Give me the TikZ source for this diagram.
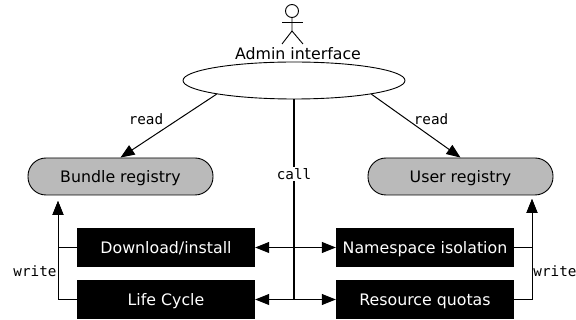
\documentclass[tikz,border=0pt]{standalone}
\usepackage{fontspec}
\setmainfont{DejaVu Sans}
\setmonofont{DejaVu Sans Mono}
\usetikzlibrary{arrows.meta,shapes.geometric,positioning}
\tikzstyle{my registry} = [draw, fill=black!27, rounded corners=18pt, minimum width=185pt, minimum height=37pt, inner sep=0pt, text height=11.5pt, text depth=0pt, line width=0.9pt, font=\fontsize{15.8}{18}\selectfont]
\tikzstyle{my module} = [fill=black, text=white, minimum width=178pt, minimum height=39pt, inner sep=0pt, text height=11.5pt, text depth=0pt, font=\fontsize{15.8}{18}\selectfont]
\tikzstyle{my label} = [inner sep=1pt, font=\ttfamily\fontsize{14.3}{16}\selectfont]
\tikzstyle{my arrow} = [line width=1pt, -{Triangle[length=14pt,width=11pt]}]

\begin{document}
\begin{tikzpicture}[x=1pt,y=-1pt]
  \useasboundingbox (0,0) rectangle (576,320);
  % Actor
  \coordinate (neck) at (292,18);
  \coordinate (hip) at (292,31);
  \draw[line width=0.9pt] (292,11) circle[radius=6.5pt];
  \draw[line width=0.9pt] (neck) -- (hip) -- (282,44);
  \draw[line width=0.9pt] (hip) -- (303,44);
  \draw[line width=0.9pt] (282,22) -- (303,22);
  \node[inner sep=0pt, font=\fontsize{15.8}{18}\selectfont] (title) at (298,53.5) {Admin interface};
  % Nodes
  \node[draw, ellipse, line width=0.9pt, minimum width=222pt, minimum height=37pt, inner sep=0pt] (admin) at (294,80.5) {};
  \node[my registry] (bundle) at (120.5,176.5) {Bundle registry};
  \node[my registry] (user) at (460.5,176.5) {User registry};
  \node[my module] (download) at (166,247.5) {Download/install};
  \node[my module] (cycle) at (166,299.5) {Life Cycle};
  \node[my module] (namespace) at (425,247.5) {Namespace isolation};
  \node[my module] (quotas) at (425,299.5) {Resource quotas};
  % Read
  \draw[my arrow] (admin.-170) -- (bundle.north);
  \draw[my arrow] (admin.-10) -- (user.north);
  \node[my label] (readl) at (146,119) {read};
  \node[my label] (readr) at (431,119) {read};
  % Call
  \coordinate (c1) at (admin.south |- download);
  \coordinate (c2) at (admin.south |- cycle);
  \draw[line width=1.6pt] (admin.south) -- (c2);
  \node[my label, fill=white] (calll) at (294,174) {call};
  \draw[my arrow] (c1) -- (download.east);
  \draw[my arrow] (c1) -- (namespace.west);
  \draw[my arrow] (c2) -- (cycle.east);
  \draw[my arrow] (c2) -- (quotas.west);
  % Write
  \coordinate (w1) at (58,201);
  \coordinate (w2) at (532,199);
  \draw[my arrow] (download.west) -- (w1 |- download) -- (w1);
  \draw[my arrow] (cycle.west) -- (w1 |- cycle) -- (w1);
  \draw[my arrow] (namespace.east) -- (w2 |- namespace) -- (w2);
  \draw[my arrow] (quotas.east) -- (w2 |- quotas) -- (w2);
  \node[my label] (writel) at (35,271) {write};
  \node[my label] (writer) at (555,271) {write};
\end{tikzpicture}
\end{document}
